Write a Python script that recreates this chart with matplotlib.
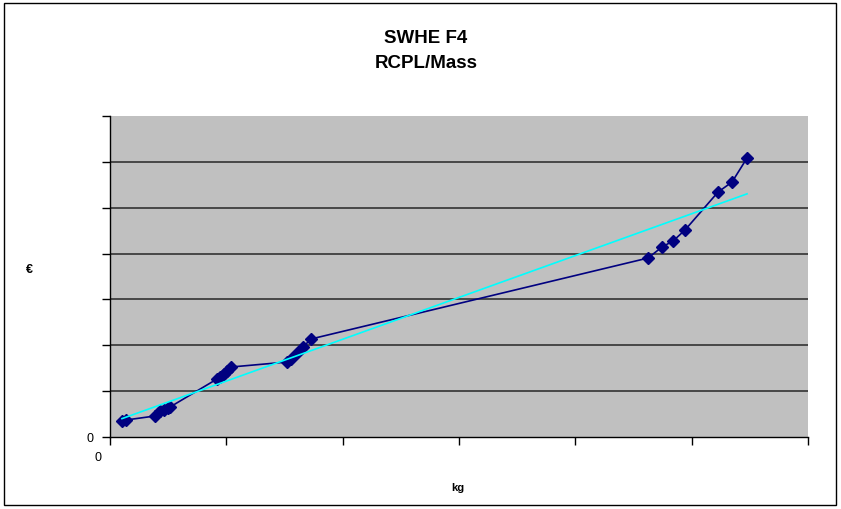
import numpy as np
import matplotlib
matplotlib.use("Agg")
import matplotlib.pyplot as plt
from matplotlib.patches import Rectangle

plt.rcParams['font.family'] = ['Liberation Sans', 'DejaVu Sans']

title = "SWHE F4\nRCPL/Mass"
x_label = "kg"
y_label = "€"

mass = [0.103, 0.138, 0.387, 0.430, 0.464, 0.499, 0.516,
        0.920, 0.946, 0.980, 1.006, 1.040,
        1.522, 1.556, 1.607, 1.659, 1.728,
        4.625, 4.745, 4.840, 4.943, 5.227, 5.347, 5.476]
cost = [0.349, 0.371, 0.458, 0.567, 0.589, 0.632, 0.654,
        1.265, 1.308, 1.374, 1.439, 1.526,
        1.635, 1.701, 1.832, 1.963, 2.137,
        3.903, 4.143, 4.274, 4.514, 5.342, 5.560, 6.084]

W, H = 841, 510
fig = plt.figure(figsize=(W / 100, H / 100), dpi=100)
fig.patch.set_facecolor('white')
fig.patches.append(Rectangle((3.5 / W, 4 / H), (836 - 3.5) / W, (506 - 4) / H,
                             transform=fig.transFigure, fill=False,
                             edgecolor='black', linewidth=1))

x0, x1, y0, y1 = 110, 808, 117, 438
ax = fig.add_axes([x0 / W, 1 - y1 / H, (x1 - x0) / W, (y1 - y0) / H])
ax.set_facecolor('#C0C0C0')
ax.set_xlim(0, 6)
ax.set_ylim(0, 7)

for yv in range(1, 7):
    ax.axhline(yv, color='#333333', linewidth=1.2, zorder=1)

ax.plot(mass, cost, color='#000080', linewidth=1.2, marker='D', markersize=6,
        markerfacecolor='#000080', markeredgecolor='#000080', zorder=3)

m, b = np.polyfit(mass, cost, 1)
xt = np.array([mass[0], mass[-1]])
ax.plot(xt, m * xt + b, color='#00FFFF', linewidth=1.2, zorder=4)

for s in ['top', 'right']:
    ax.spines[s].set_visible(False)
for s in ['left', 'bottom']:
    ax.spines[s].set_color('black')
    ax.spines[s].set_linewidth(1)

ax.set_xticks(range(0, 7))
ax.set_yticks(range(0, 8))
ax.set_xticklabels([''] * 7)
ax.set_yticklabels(['0'] + [''] * 7)
ax.tick_params(axis='both', direction='out', length=6, width=1, color='black',
               labelsize=9)
ax.tick_params(axis='y', pad=6)

fig.text(98 / W, 1 - 458 / H, '0', ha='center', va='center', fontsize=9)
fig.text(458 / W, 1 - 488 / H, x_label, ha='center', va='center', fontsize=8,
         fontweight='bold')
fig.text(29 / W, 1 - 270 / H, y_label, ha='center', va='center', fontsize=9,
         fontweight='bold')
fig.text(426 / W, 1 - 51 / H, title, ha='center', va='center', fontsize=13.5,
         fontweight='bold', linespacing=1.55)

fig.savefig('out.png', dpi=100, facecolor='white')
